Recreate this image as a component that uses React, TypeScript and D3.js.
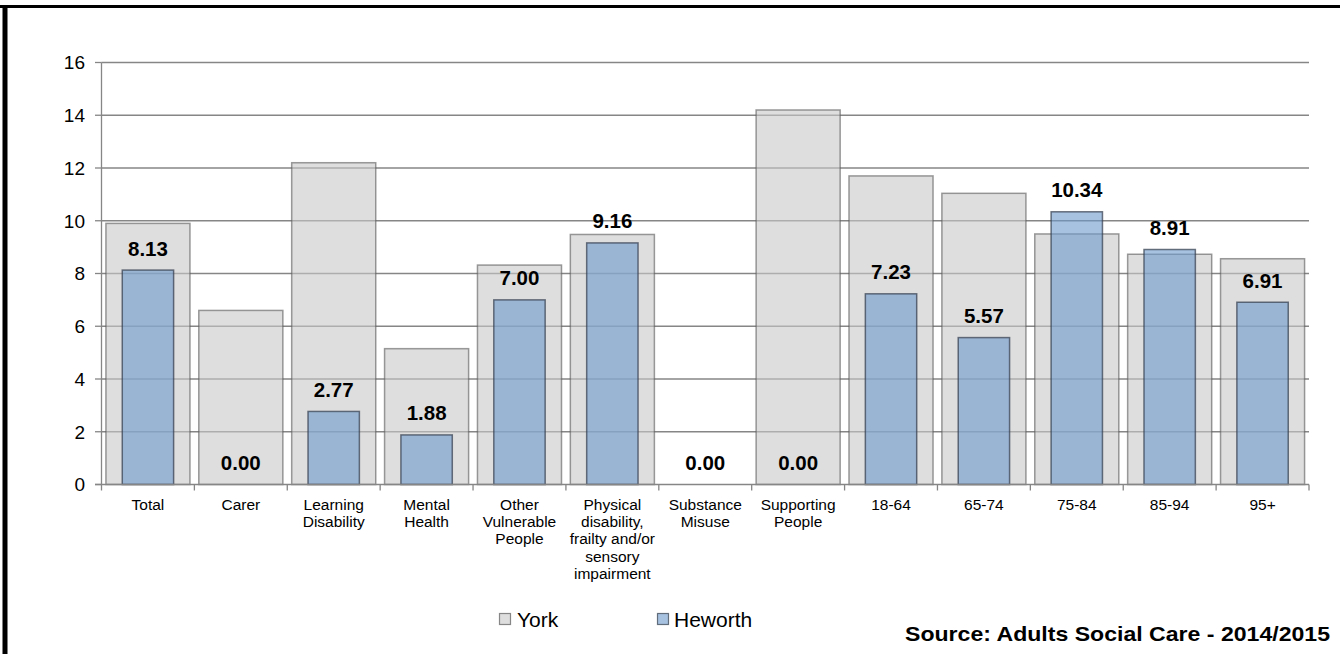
import React from "react";
import * as d3 from "d3";

const categories: string[][] = [
  ["Total"],
  ["Carer"],
  ["Learning", "Disability"],
  ["Mental", "Health"],
  ["Other", "Vulnerable", "People"],
  ["Physical", "disability,", "frailty and/or", "sensory", "impairment"],
  ["Substance", "Misuse"],
  ["Supporting", "People"],
  ["18-64"],
  ["65-74"],
  ["75-84"],
  ["85-94"],
  ["95+"],
];
const york: number[] = [9.9, 6.6, 12.2, 5.15, 8.32, 9.48, 0, 14.2, 11.7, 11.04, 9.5, 8.73, 8.56];
const heworth: number[] = [8.13, 0, 2.77, 1.88, 7.0, 9.16, 0, 0, 7.23, 5.57, 10.34, 8.91, 6.91];
const yTicks: number[] = [0, 2, 4, 6, 8, 10, 12, 14, 16];
const seriesNames = ["York", "Heworth"];
const sourceText = "Source: Adults Social Care - 2014/2015";

const W = 1340;
const H = 654;
const plotLeft = 101.5;
const plotRight = 1309;
const plotTop = 62.5;
const plotBottom = 484.5;

const YORK_FILL = "rgb(200,200,200)";
const YORK_OP = 0.6;
const HEW_FILL = "rgb(108,152,204)";
const HEW_OP = 0.6;
const GRID = "#868686";
const FONT = "'Liberation Sans', Arial, sans-serif";

export default function App() {
  const idx = categories.map((_, i) => String(i));
  const x = d3.scaleBand<string>().domain(idx).range([plotLeft, plotRight]).padding(0);
  const y = d3.scaleLinear().domain([0, 16]).range([plotBottom, plotTop]);
  const bw = x.bandwidth();
  const yorkW = bw * 0.905;
  const hewW = bw * 0.553;

  return (
    <svg
      width={W}
      height={H}
      style={{ position: "absolute", left: 0, top: 0, background: "#fff" }}
      fontFamily={FONT}
    >
      <rect x={0} y={0} width={W} height={H} fill="#fff" />
      {/* frame */}
      <rect x={0} y={5} width={W} height={3} fill="#000" />
      <rect x={2.5} y={5} width={5} height={H - 5} fill="#000" />

      {/* gridlines */}
      {yTicks.map((t) => (
        <g key={"g" + t}>
          {t > 0 && (
            <line x1={plotLeft} x2={plotRight} y1={y(t)} y2={y(t)} stroke={GRID} strokeWidth={1.3} />
          )}
          <line x1={plotLeft - 6.5} x2={plotLeft} y1={y(t)} y2={y(t)} stroke={GRID} strokeWidth={1.3} />
          <text
            x={85}
            y={y(t)}
            dy="0.36em"
            textAnchor="end"
            fontSize={19}
            fill="#000"
          >
            {t}
          </text>
        </g>
      ))}

      {/* York bars */}
      {york.map((v, i) =>
        v > 0 ? (
          <rect
            key={"y" + i}
            x={(x(String(i)) as number) + (bw - yorkW) / 2}
            y={y(v)}
            width={yorkW}
            height={y(0) - y(v)}
            fill={YORK_FILL}
            fillOpacity={YORK_OP}
            stroke="rgb(90,90,90)"
            strokeOpacity={0.6}
            strokeWidth={1.5}
          />
        ) : null
      )}
      {/* Heworth bars */}
      {heworth.map((v, i) =>
        v > 0 ? (
          <rect
            key={"h" + i}
            x={(x(String(i)) as number) + (bw - hewW) / 2}
            y={y(v)}
            width={hewW}
            height={y(0) - y(v)}
            fill={HEW_FILL}
            fillOpacity={HEW_OP}
            stroke="rgb(50,60,75)"
            strokeOpacity={0.7}
            strokeWidth={1.5}
          />
        ) : null
      )}

      {/* axes */}
      <line x1={plotLeft} x2={plotLeft} y1={plotTop} y2={plotBottom} stroke={GRID} strokeWidth={1.3} />
      <line x1={plotLeft - 6.5} x2={plotRight} y1={plotBottom} y2={plotBottom} stroke={GRID} strokeWidth={1.3} />
      {idx.concat([String(categories.length)]).map((d, i) => {
        const xx = i < categories.length ? (x(d) as number) : plotRight;
        return (
          <line key={"t" + i} x1={xx} x2={xx} y1={plotBottom} y2={plotBottom + 6} stroke={GRID} strokeWidth={1.3} />
        );
      })}

      {/* data labels */}
      {heworth.map((v, i) => (
        <text
          key={"l" + i}
          x={(x(String(i)) as number) + bw / 2}
          y={y(v) - 14.5}
          textAnchor="middle"
          fontSize={20.5}
          fontWeight="bold"
          fill="#000"
        >
          {v.toFixed(2)}
        </text>
      ))}

      {/* category labels */}
      {categories.map((lines, i) => (
        <text
          key={"c" + i}
          x={(x(String(i)) as number) + bw / 2}
          y={510}
          textAnchor="middle"
          fontSize={15.5}
          fill="#000"
        >
          {lines.map((ln, j) => (
            <tspan key={j} x={(x(String(i)) as number) + bw / 2} dy={j === 0 ? 0 : 17.2}>
              {ln}
            </tspan>
          ))}
        </text>
      ))}

      {/* legend */}
      <g>
        <rect x={499.5} y={613.5} width={11} height={11} fill={YORK_FILL} fillOpacity={YORK_OP} stroke="rgb(90,90,90)" strokeOpacity={0.7} strokeWidth={1.2} />
        <text x={517} y={626.5} fontSize={21} fill="#000">{seriesNames[0]}</text>
        <rect x={657.5} y={613.5} width={11} height={11} fill={HEW_FILL} fillOpacity={HEW_OP} stroke="rgb(50,60,75)" strokeOpacity={0.7} strokeWidth={1.2} />
        <text x={674} y={626.5} fontSize={21} fill="#000">{seriesNames[1]}</text>
      </g>

      {/* source */}
      <text
        x={1330}
        y={641}
        textAnchor="end"
        fontSize={21}
        fontWeight="bold"
        fill="#000"
        textLength={425}
        lengthAdjust="spacingAndGlyphs"
      >
        {sourceText}
      </text>
    </svg>
  );
}
